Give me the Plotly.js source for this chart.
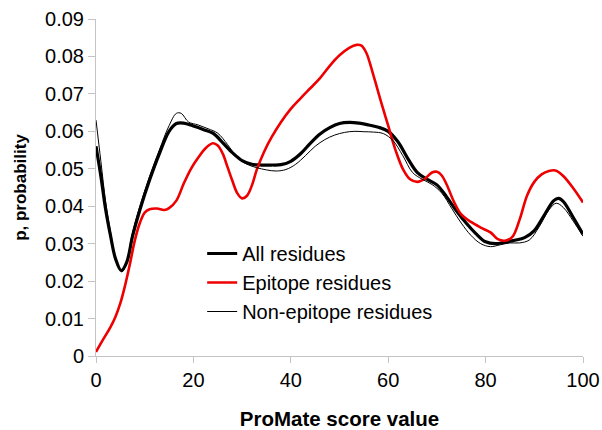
<!DOCTYPE html>
<html>
<head>
<meta charset="utf-8">
<script src="https://cdn.plot.ly/plotly-3.0.1.min.js"></script>
<style>
  html, body { margin: 0; padding: 0; background: #ffffff; }
  #chart { width: 602px; height: 430px; }
</style>
</head>
<body>
<div id="chart"></div>
<script>
// Probability density of ProMate scores for three residue sets.

// All residues
const allX = [0, 1, 2, 3, 4, 5.2, 6.3, 7.5, 9, 11, 13, 15, 16.5, 18, 20, 22, 24, 26, 28, 30, 32, 34, 36, 38, 40, 42, 44, 46, 48, 50, 52, 54, 56, 58, 60, 62, 64, 66, 68, 70, 72, 74, 76, 78, 80, 82, 84, 86, 88, 90, 92, 94, 95, 96, 98, 100];
const allY = [0.056, 0.048, 0.039, 0.032, 0.026, 0.0228, 0.025, 0.032, 0.039, 0.047, 0.054, 0.060, 0.0621, 0.0622, 0.0614, 0.0605, 0.0595, 0.0570, 0.0543, 0.0522, 0.0512, 0.0510, 0.0510, 0.0511, 0.0520, 0.0540, 0.0568, 0.0593, 0.0610, 0.0621, 0.0624, 0.0622, 0.0617, 0.0611, 0.0600, 0.0572, 0.0528, 0.0490, 0.0472, 0.0457, 0.0425, 0.0388, 0.0355, 0.0327, 0.0305, 0.0300, 0.0304, 0.0309, 0.0316, 0.0335, 0.0375, 0.0415, 0.0421, 0.0412, 0.0370, 0.0325];

// Epitope residues
const epiX = [0, 1.5, 3, 4, 5, 6, 7, 8, 9, 10, 11, 12.5, 14, 15, 16.5, 18, 19.5, 21, 22.5, 24, 25, 26, 27, 28, 29, 30, 31, 32, 33, 34.5, 36, 38, 40, 42, 44, 46, 48, 50, 52, 53.5, 54.5, 55.5, 57, 58.5, 60, 61.5, 63, 64.5, 66, 67.5, 69, 70, 71, 72, 73.5, 75, 77, 79, 81, 82.5, 84, 85.5, 87, 88.5, 90, 91.5, 93, 94.5, 96, 98, 100];
const epiY = [0.0011, 0.0045, 0.0078, 0.0105, 0.0141, 0.019, 0.0248, 0.031, 0.0355, 0.0383, 0.0392, 0.0394, 0.0390, 0.0395, 0.0415, 0.0460, 0.0500, 0.0530, 0.0555, 0.0568, 0.0562, 0.0541, 0.0505, 0.0468, 0.0435, 0.0421, 0.0428, 0.0455, 0.0497, 0.0545, 0.0583, 0.0625, 0.0660, 0.0688, 0.0715, 0.0742, 0.0775, 0.0803, 0.0823, 0.0831, 0.0829, 0.0810, 0.0748, 0.0680, 0.0615, 0.0550, 0.0500, 0.0472, 0.0465, 0.0473, 0.0490, 0.0492, 0.0482, 0.0458, 0.0412, 0.0378, 0.0358, 0.0343, 0.0330, 0.0312, 0.0308, 0.0318, 0.0365, 0.0428, 0.0465, 0.0485, 0.0494, 0.0495, 0.0480, 0.0448, 0.0410];

// Non-epitope residues
const nonX = [0, 1, 2, 3, 4, 5.3, 6.3, 7.5, 9, 11, 13, 15, 16.5, 17.5, 19, 21, 23, 25, 27, 29, 31, 33, 35, 37, 39, 41, 43, 45, 47, 49, 51, 53, 55, 57, 59, 61, 63, 65, 67, 69, 71, 73, 75, 77, 79, 81, 83, 85, 87, 89, 91, 93, 94.5, 96, 98, 100];
const nonY = [0.063, 0.052, 0.041, 0.033, 0.026, 0.0225, 0.025, 0.033, 0.040, 0.048, 0.055, 0.0615, 0.0648, 0.0648, 0.0625, 0.0617, 0.0607, 0.0595, 0.0565, 0.0530, 0.0512, 0.0503, 0.0497, 0.0494, 0.0498, 0.0512, 0.0535, 0.0560, 0.0578, 0.0590, 0.0597, 0.0600, 0.0599, 0.0598, 0.0594, 0.0575, 0.0535, 0.0490, 0.0472, 0.0458, 0.0435, 0.0395, 0.0355, 0.0322, 0.0300, 0.0292, 0.0297, 0.0302, 0.0302, 0.0310, 0.0345, 0.0390, 0.0408, 0.0396, 0.0360, 0.0320];

const seriesNames = ['All residues', 'Epitope residues', 'Non-epitope residues'];

const xTicks = [0, 20, 40, 60, 80, 100];
const yTicks = [0, 0.01, 0.02, 0.03, 0.04, 0.05, 0.06, 0.07, 0.08, 0.09];
const yTickText = ['0', '0.01', '0.02', '0.03', '0.04', '0.05', '0.06', '0.07', '0.08', '0.09'];

const FONT = '"Liberation Sans", Arial, sans-serif';
const AXIS_GREY = '#c4c4c4';

const traces = [
  {
    x: allX, y: allY, name: seriesNames[0], type: 'scatter', mode: 'lines',
    line: { color: '#000000', width: 3.2, shape: 'spline', smoothing: 1 }
  },
  {
    x: epiX, y: epiY, name: seriesNames[1], type: 'scatter', mode: 'lines',
    line: { color: '#ee0000', width: 2.6, shape: 'spline', smoothing: 1 }
  },
  {
    x: nonX, y: nonY, name: seriesNames[2], type: 'scatter', mode: 'lines',
    line: { color: '#000000', width: 1, shape: 'spline', smoothing: 1 }
  }
];

const layout = {
  width: 602,
  height: 430,
  margin: { l: 96, r: 19, t: 19, b: 74, pad: 0 },
  paper_bgcolor: '#ffffff',
  plot_bgcolor: '#ffffff',
  font: { family: FONT, color: '#000000', size: 20 },
  showlegend: true,
  legend: {
    x: 0.218, y: 0.362, xanchor: 'left', yanchor: 'top',
    bgcolor: 'rgba(0,0,0,0)',
    font: { family: FONT, size: 20, color: '#000000' },
    tracegroupgap: 0
  },
  xaxis: {
    range: [0, 100],
    tickvals: xTicks,
    ticks: 'outside', ticklen: 6, tickcolor: AXIS_GREY, tickwidth: 1,
    showline: true, linecolor: AXIS_GREY, linewidth: 1,
    showgrid: false, zeroline: false,
    tickfont: { family: FONT, size: 20, color: '#000000' },
    title: { text: '<b>ProMate score value</b>', font: { family: FONT, size: 20.5, color: '#000000' }, standoff: 24 }
  },
  yaxis: {
    range: [0, 0.09],
    tickvals: yTicks,
    ticktext: yTickText,
    ticks: 'outside', ticklen: 7, tickcolor: AXIS_GREY, tickwidth: 1,
    showline: true, linecolor: AXIS_GREY, linewidth: 1,
    showgrid: false, zeroline: false,
    tickfont: { family: FONT, size: 20, color: '#000000' },
    title: { text: '<b>p, probability</b>', font: { family: FONT, size: 17, color: '#000000' }, standoff: 14 }
  }
};

Plotly.newPlot('chart', traces, layout, { staticPlot: true, displayModeBar: false });
</script>
</body>
</html>
